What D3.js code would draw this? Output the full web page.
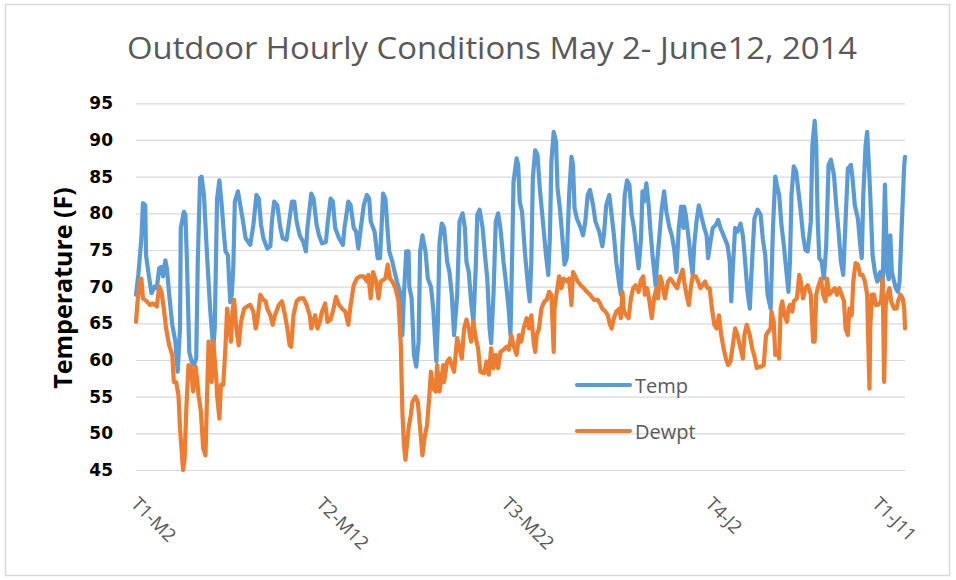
<!DOCTYPE html>
<html>
<head>
<meta charset="utf-8">
<script src="https://cdn.jsdelivr.net/npm/d3@7"></script>
<style>
	body { margin: 0; background: #ffffff; }
	svg { display: block; }
</style>
</head>
<body>
<svg id="canvas" width="956" height="580"></svg>
<script>
// hourly readings, [hours since May 2 00:00, degrees F]
var temp = [
	[0,68.9],[3,71.6],[7,76.6],[9,81.4],[12,81.1],[13,74.3],[16,72],[20,69.1],[24,70],[27,69.8],[30,72.5],[33,72.7],[35,71.4],[38,73.6],[40,72.5],[43,68.9],
	[47,64.8],[51,62.5],[54,58.4],[57,64.3],[58,78],[62,80.2],[64,79.8],[66,73.4],[69,61.1],[72,59.8],[75,59.3],[78,60.2],[80,73.4],[83,84.8],[85,85],[88,82.5],
	[92,74.3],[96,67],[100,61.6],[102,64.3],[105,82],[108,84.5],[111,81.1],[114,77],[116,74.8],[119,74.3],[122,67.9],[124,68.9],[126,72.5],[128,81.6],[132,83],
	[138,79.3],[142,76.6],[148,75.7],[152,78.4],[156,82.5],[159,82],[162,78.4],[165,76.6],[170,75.2],[174,75.5],[176,78.9],[179,81.6],[183,81.1],[187,78],[190,76.6],
	[195,76.4],[202,81.6],[205,81.6],[208,78.9],[212,77],[217,76],[220,74.8],[222,78],[227,82.7],[230,82],[234,78.4],[237,77],[241,75.9],[246,76.1],[248,78.4],
	[252,82],[255,81.6],[258,78],[263,76.6],[268,75.7],[270,78],[275,81.6],[278,81.1],[282,78],[285,77.5],[288,75.2],[290,77],[295,81.1],[299,82.5],[302,82],
	[304,78.9],[309,77.5],[313,73.9],[316,73.9],[318,78],[320,82.7],[323,82],[326,77.5],[328,74.8],[332,73.4],[335,72],[338,70.7],[343,68.9],[345,63.4],[347,68.9],
	[350,74.8],[353,74.8],[354,70],[357,68.4],[360,60.7],[363,59.1],[366,62.5],[368,74.8],[371,77],[375,74.8],[378,71.1],[382,70],[385,67],[389,59.8],[391,65.2],
	[393,75.9],[396,78.6],[399,78],[403,73.4],[406,72],[409,68.9],[412,63.4],[416,68.9],[419,78.9],[423,80],[426,78],[428,73.4],[431,72],[434,68],[437,65.2],
	[440,72.5],[442,79.8],[445,80.5],[449,78],[452,74.3],[455,71.1],[458,64.3],[460,62.3],[463,68.9],[466,78.9],[469,80],[472,78],[476,73.4],[479,70.7],[483,66.6],
	[485,63.4],[487,73.4],[489,84.3],[493,87.5],[495,86.6],[497,81.6],[500,80.2],[504,74.3],[508,69.8],[510,68],[512,73.4],[514,84.8],[517,88.6],[520,88],[523,83.4],
	[527,78.9],[531,74.3],[534,71.6],[536,76.6],[538,87],[541,91.1],[544,89.8],[546,83.4],[549,80.7],[552,77],[555,73],[558,73.9],[561,82.5],[564,87.7],[566,86.6],
	[568,80.7],[571,79.3],[576,78],[579,77],[582,78.9],[585,82.5],[588,83.2],[592,81.1],[595,78.9],[600,77.5],[604,75.5],[606,77],[609,81.1],[613,82.5],[616,79.8],
	[619,77],[622,73.4],[626,70.2],[628,68.9],[630,75.7],[633,82.5],[636,84.5],[639,83.9],[642,79.8],[645,78],[648,75.2],[651,72.5],[654,76.4],[656,83],[658,81.6],
	[661,84.1],[664,81.1],[666,78],[669,74.3],[673,70.2],[675,73.4],[678,77],[681,80.7],[684,83],[687,80.2],[691,78],[694,77],[697,75.2],[700,72],[703,78],
	[706,80.9],[709,78],[710,80.9],[712,79.8],[716,76.4],[719,73.2],[721,71.6],[723,75.7],[726,78.9],[729,81.1],[733,79.3],[736,78],[739,77],[741,73.9],[744,76.1],
	[747,78],[751,78.4],[754,79.1],[757,78],[761,77],[766,75.7],[769,73.4],[771,68],[773,72.5],[776,78],[779,77.5],[783,78.6],[786,77],[789,73.4],[792,69.3],
	[795,67],[797,71.6],[801,79.3],[805,80.5],[809,79.8],[812,76.4],[815,74.3],[818,68.9],[822,67],[825,78],[828,85],[830,83.9],[833,82.5],[836,78.4],[839,75.7],
	[842,72.5],[845,69.3],[847,73.4],[849,82.5],[852,86.4],[855,85.7],[857,83.9],[861,80.2],[864,77],[867,75],[870,74.8],[874,78.9],[876,89.3],[879,92.6],[881,89.3],
	[883,78.9],[885,73.9],[888,73.4],[891,71.1],[894,75.7],[897,86.6],[900,87.3],[904,85.2],[907,81.1],[910,77.5],[913,73.4],[916,71.6],[919,78.9],[922,86.1],[926,86.6],
	[928,84.8],[931,81.1],[935,79.3],[938,75.7],[940,73.9],[942,82.5],[945,89.3],[947,91.1],[949,87],[951,82.5],[954,74.3],[957,72],[960,70.7],[964,72],[967,70],
	[970,83.9],[973,72],[975,71],[977,77],[979,72],[984,69.8],[987,69.3],[989,70.7],[992,78.9],[995,86.6],[996,87.7]
];

var dewpt = [
	[0,65.2],[2,68],[5,70.7],[7,71.1],[9,68.4],[14,68],[18,67.5],[22,67.7],[27,67.3],[30,70],[33,69.3],[36,67],[39,64.3],[43,62],[47,60.7],[49,57],[52,57],
	[55,55.2],[57,50.7],[61,45],[63,46.6],[65,52.9],[68,59.3],[71,59],[74,55.7],[77,59.1],[79,57.5],[81,55.2],[84,53],[87,48],[90,47],[92,55],[94,62.5],
	[96,59.8],[98,57],[100,62.5],[104,57.5],[105,55.2],[108,52],[110,56.6],[113,56.6],[116,62],[118,67],[121,64.3],[123,62.5],[125,66.6],[127,68.2],[130,64.3],
	[133,62],[136,65.2],[140,67],[144,67.3],[148,67.5],[152,66.6],[155,64.3],[157,65.2],[161,68.9],[165,68.2],[168,68],[170,67],[174,66.1],[177,64.8],[180,66.1],
	[185,67.5],[189,68],[193,66.1],[196,64.3],[199,62],[201,61.8],[204,66.1],[208,68],[212,68.4],[217,68.4],[221,67.5],[225,66.1],[227,64.3],[232,66.1],[235,64.3],
	[238,65.2],[241,66.6],[245,67.7],[248,65.2],[252,65.5],[255,66.6],[259,68.6],[263,67.5],[267,67],[271,66.6],[275,64.8],[278,67.5],[282,70.2],[286,71.1],[290,71.4],
	[295,71.4],[299,70.7],[301,71.6],[304,68.4],[307,72],[311,70.7],[314,68.4],[317,70.7],[323,71.1],[326,73],[329,71.1],[332,70.7],[336,69.8],[340,68],[343,62],
	[345,53],[347,48.4],[349,46.4],[353,50.7],[356,52.5],[358,54.3],[362,55],[365,54.3],[368,50.7],[371,47],[374,49.6],[377,51.1],[380,55.2],[382,58.4],[385,56.1],
	[388,55.7],[390,59.3],[393,55.7],[395,57],[398,59.3],[399,57],[403,59.8],[406,60.2],[409,59.3],[412,58.4],[416,63],[419,61.6],[422,60.2],[425,64.3],[428,65.5],
	[431,64.3],[434,62.5],[437,65.2],[440,63],[443,61.6],[446,58.4],[451,58.2],[454,59.8],[457,58],[460,61.6],[463,58.9],[466,60.7],[469,58.9],[472,61.1],[476,61.4],
	[480,61.8],[483,61.4],[486,63.4],[489,62],[493,60.7],[496,63.4],[499,62.5],[502,64.3],[506,65.7],[509,64.3],[512,66.1],[515,62.5],[517,61.1],[519,63.4],[522,64.3],
	[525,67],[529,68],[532,68.2],[535,69.3],[538,68.9],[541,61.1],[542,67],[545,69.3],[548,71.4],[551,69.8],[554,71.1],[558,70.7],[561,71.1],[564,67.5],[566,72],
	[569,71.4],[572,70.7],[576,70.2],[580,69.8],[584,69.3],[588,68.9],[593,68.2],[598,68.2],[601,67.7],[604,67],[608,66.6],[611,66.1],[614,64.8],[616,64.3],[619,65.7],
	[622,66.6],[626,67],[628,65.7],[630,69.3],[632,66.6],[635,66.1],[638,65.7],[641,68.4],[644,69.8],[647,70.2],[651,69.3],[654,70.9],[657,71.4],[659,68.9],[662,69.8],
	[665,68],[668,65.7],[671,68.4],[674,69.8],[676,68.4],[679,71.4],[681,70.7],[685,68.4],[689,70.7],[692,71.1],[695,70.7],[698,70.2],[701,69.8],[704,71.1],[708,72.3],
	[710,70.7],[713,68.9],[716,67.5],[719,70.2],[721,71.4],[725,71.4],[728,70.7],[731,69.8],[734,70.2],[737,70.7],[740,69.8],[743,69.8],[746,67],[749,64.8],[752,64.3],
	[755,66.1],[758,63.4],[761,61.6],[764,60.2],[767,59.3],[770,59.8],[773,62],[776,64.3],[779,63.4],[783,61.6],[786,60.2],[788,63.4],[791,64.8],[795,63.4],[798,61.6],
	[801,60.5],[804,58.9],[807,59.1],[810,59.1],[813,59.3],[816,63.4],[819,63.9],[822,64.3],[823,66.6],[826,65.2],[828,60.7],[831,61.1],[833,60.2],[835,67],[837,68],
	[840,66.1],[843,65.2],[845,67],[847,67.5],[850,66.6],[852,68],[856,68.4],[859,71.6],[861,70.7],[864,68.4],[867,69.8],[870,70.2],[874,68.9],[877,62.5],[879,62.5],
	[881,68.9],[883,69.8],[887,71.1],[890,68.9],[893,68],[895,71.1],[898,68.9],[901,69.3],[905,69.8],[908,68.9],[911,69.8],[914,68.9],[917,68],[919,64.3],[922,63.4],
	[924,67],[927,66.1],[929,70.7],[932,73.2],[935,73],[938,71.6],[941,71.6],[944,70.7],[947,68.9],[948,64.3],[950,56.1],[951,64.3],[953,68.9],[956,68.9],[958,67.5],
	[961,67.5],[965,68],[967,71.1],[969,57],[971,67.5],[973,68.9],[976,69.8],[978,68],[982,67],[985,67],[987,68],[990,68.9],[993,68.4],[995,67],[996,64.3]
];

var seriesNames = ["Temp", "Dewpt"];
var seriesColors = ["#5B9BD5", "#ED7D31"];
var tickHours = [0, 240, 480, 744, 960];
var tickLabels = ["T1-M2", "T2-M12", "T3-M22", "T4-J2", "T1-J11"];
var yTicks = [45, 50, 55, 60, 65, 70, 75, 80, 85, 90, 95];

function draw(){
	var svg = d3.select("#canvas");
	var left = 136, right = 905, top = 103.3, bottom = 470;
	var lineWidth = 4.2;

	var x = d3.scaleLinear().domain([0, 996]).range([left, right]);
	var y = d3.scaleLinear().domain([45, 95]).range([bottom, top]);

	// chart frame
	svg.append("rect")
		.attr("x", 5.5).attr("y", 4.5)
		.attr("width", 944).attr("height", 571)
		.attr("fill", "#ffffff")
		.attr("stroke", "#d9d9d9")
		.attr("stroke-width", 1.5);

	svg.append("text")
		.attr("x", 492).attr("y", 59)
		.attr("text-anchor", "middle")
		.attr("textLength", 730)
		.attr("lengthAdjust", "spacingAndGlyphs")
		.style("font-family", "'Open Sans', sans-serif")
		.style("font-size", "31px")
		.style("fill", "#595959")
		.text("Outdoor Hourly Conditions May 2- June12, 2014");

	// gridlines + y labels
	var yAxis = d3.axisLeft(y)
		.tickValues(yTicks)
		.tickSize(-(right - left))
		.tickPadding(23);
	var gy = svg.append("g")
		.attr("transform", "translate(" + left + ",0)")
		.call(yAxis);
	gy.select(".domain").remove();
	gy.selectAll(".tick line")
		.attr("stroke", "#d9d9d9")
		.attr("stroke-width", 1.2);
	gy.selectAll(".tick text")
		.style("font-family", "'DejaVu Sans', sans-serif")
		.style("font-weight", "bold")
		.style("font-size", "17px")
		.style("fill", "#000000");

	svg.append("text")
		.attr("transform", "translate(72,288) rotate(-90)")
		.attr("text-anchor", "middle")
		.style("font-family", "'Open Sans', sans-serif")
		.style("font-weight", "bold")
		.style("font-size", "25px")
		.style("fill", "#000000")
		.text("Temperature (F)");

	// x category labels, slanted
	svg.selectAll("text.xlab")
		.data(tickHours)
		.enter()
		.append("text")
			.attr("class", "xlab")
			.attr("transform", function(d){
				return "translate(" + (x(d) - 6) + ",505) rotate(45)";
			})
			.style("font-family", "'Open Sans', sans-serif")
			.style("font-size", "18.5px")
			.style("fill", "#595959")
			.text(function(d, i){
				return tickLabels[i];
			});

	var lineGenerator = d3.line()
		.x(function(d){ return x(d[0]); })
		.y(function(d){ return y(d[1]); });

	svg.selectAll("path.series")
		.data([temp, dewpt])
		.enter()
		.append("path")
			.attr("class", "series")
			.attr("d", lineGenerator)
			.attr("fill", "none")
			.attr("stroke", function(d, i){ return seriesColors[i]; })
			.attr("stroke-width", lineWidth)
			.attr("stroke-linejoin", "round")
			.attr("stroke-linecap", "round");

	// legend
	var legend = svg.selectAll("g.legend")
		.data(seriesNames)
		.enter()
		.append("g")
			.attr("class", "legend")
			.attr("transform", function(d, i){
				return "translate(577," + (385 + i * 46) + ")";
			});
	legend.append("line")
		.attr("x1", 0).attr("x2", 53)
		.attr("y1", 0).attr("y2", 0)
		.attr("stroke", function(d, i){ return seriesColors[i]; })
		.attr("stroke-width", lineWidth)
		.attr("stroke-linecap", "round");
	legend.append("text")
		.attr("x", 58).attr("y", 7.5)
		.style("font-family", "'Open Sans', sans-serif")
		.style("font-size", "20px")
		.style("fill", "#595959")
		.text(function(d){ return d; });
}

draw();
</script>
</body>
</html>
